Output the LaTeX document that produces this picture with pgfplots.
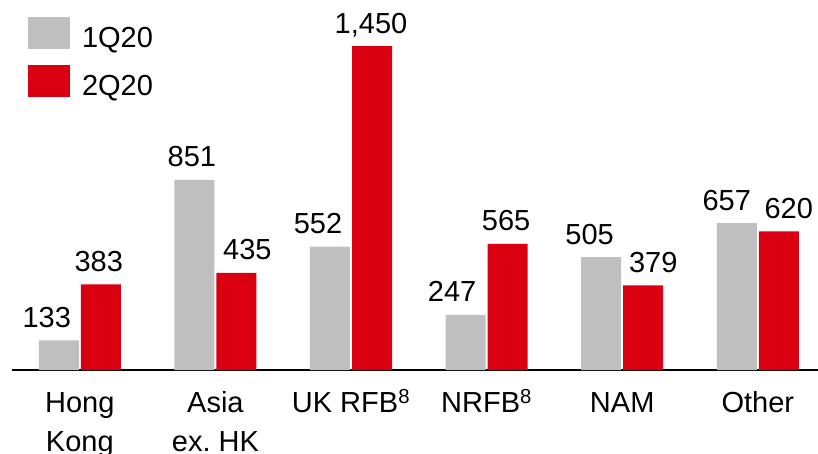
\documentclass[border=0pt]{standalone}
\usepackage{pgfplots}
\usepackage{pgfplotstable}
\pgfplotsset{compat=1.18}
\usepackage{fontspec}
\setmainfont{Liberation Sans}

\definecolor{barGrey}{RGB}{191,191,191}
\definecolor{barRed}{RGB}{219,0,17}

% profit before tax by region, $m; dx nudges each value label sideways
\pgfplotstableread{
x val dx
0 133 -12
1 851 -2.5
2 552 -12
3 247 -13.5
4 505 -11.5
5 657 -10
}\qone
\pgfplotstableread{
x val dx
0 383 -2
1 435 11
2 1450 -1
3 565 -1.5
4 379 10
5 620 10
}\qtwo

\begin{document}
\begin{tikzpicture}
\begin{axis}[
  at={(12bp,0bp)}, anchor=south west,
  scale only axis,
  width=806bp, height=370bp,
  xmin=-0.5, xmax=5.444,
  ymin=0, ymax=1656,
  clip=false,
  axis y line=none,
  axis x line*=bottom,
  x axis line style={line width=2.4bp, black},
  major tick length=0pt,
  xtick=data,
  % every label has two lines so that all share one baseline
  xticklabels={Hong\\Kong, Asia\\ex.\ HK, UK RFB\textsuperscript{8}\\\mbox{}, NRFB\textsuperscript{8}\\\mbox{}, NAM\\\mbox{}, Other\\\mbox{}},
  xticklabel style={font=\fontsize{29bp}{39bp}\selectfont, align=center, anchor=base, yshift=-81.5bp, inner sep=0pt},
  ybar, bar width=0.295,
  /pgf/number format/assume math mode=true,
  nodes near coords,
  visualization depends on={\thisrow{dx} \as \dx},
  every node near coord/.append style={font=\fontsize{29bp}{34bp}\selectfont, anchor=base, yshift=13bp, xshift=\dx bp, inner sep=0pt, black},
  legend style={draw=none, fill=none, at={(axis description cs:0.0199,0.954)}, anchor=north west,
    inner sep=0pt, outer sep=0pt, row sep=16bp, column sep=0bp,
    font=\fontsize{29bp}{34bp}\selectfont,
    nodes={inner sep=0pt, outer sep=0pt}},
  legend cell align=left,
]
\addplot[fill=barGrey, draw=none, bar shift=-0.155,
  legend image code/.code={\fill[barGrey] (0bp,-11bp) rectangle (42bp,21bp); \path (54bp,0bp);}]
  table[x=x, y=val] {\qone};
\addlegendentry{1Q20}
\addplot[fill=barRed, draw=none, bar shift=0.155,
  legend image code/.code={\fill[barRed] (0bp,-11bp) rectangle (42bp,21bp); \path (54bp,0bp);}]
  table[x=x, y=val] {\qtwo};
\addlegendentry{2Q20}
\end{axis}
\pgfresetboundingbox
\path (0bp,-84bp) rectangle (818bp,370bp);
\end{tikzpicture}
\end{document}
